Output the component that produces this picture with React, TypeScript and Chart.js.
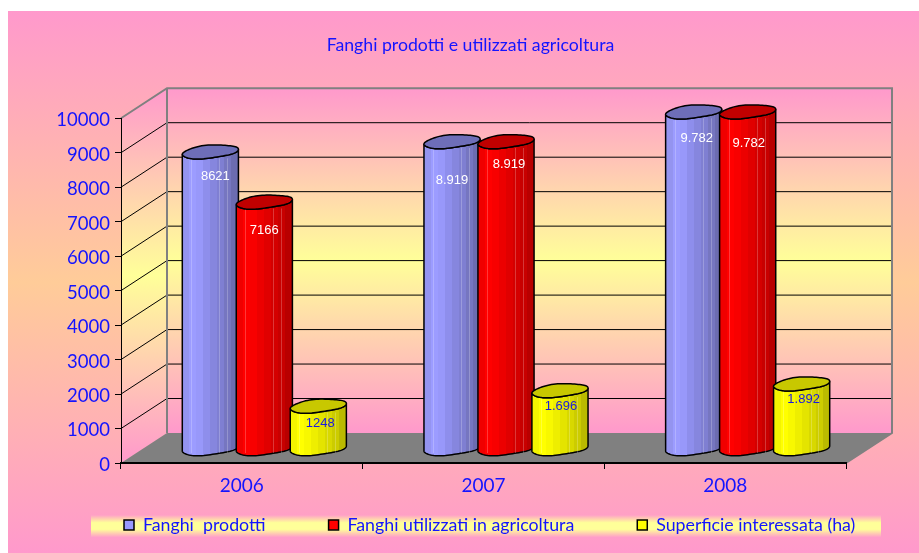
import React, { useEffect, useRef } from "react";
import { Chart, registerables } from "chart.js";

Chart.register(...registerables);

const categories = ["2006", "2007", "2008"];
const seriesNames = ["Fanghi  prodotti", "Fanghi utilizzati in agricoltura", "Superficie interessata (ha)"];
const fanghiProdotti = [8621, 8919, 9782];
const fanghiUtilizzati = [7166, 8919, 9782];
const superficie = [1248, 1696, 1892];
const labelsProdotti = ["8621", "8.919", "9.782"];
const labelsUtilizzati = ["7166", "8.919", "9.782"];
const labelsSuperficie = ["1248", "1.696", "1.892"];
const titleText = "Fanghi prodotti e utilizzati agricoltura";

const FONT = "Lato, 'Open Sans', sans-serif";
const BLUE_TEXT = "#1414ff";
const DEPTH_X = 46;
const DEPTH_Y = 30;

// bar style per dataset
const barStyles = [
  { stops: ["#9494f0", "#9c9cff", "#9898fa", "#8e8eec", "#8686de", "#7f7fd2", "#7676c0", "#6c6cb0"], cap: "#6e6eb8", text: "#ffffff", labels: labelsProdotti, dy: [25, 39, 27], dx: [5, 0, 3] },
  { stops: ["#f00000", "#ff0000", "#f80000", "#ec0000", "#e00000", "#d40000", "#c80000", "#b80000"], cap: "#c00000", text: "#ffffff", labels: labelsUtilizzati, dy: [28, 23, 32], dx: [0, 3, 1] },
  { stops: ["#f4f400", "#ffff00", "#f8f800", "#eeee00", "#e4e400", "#d8d800", "#cccc00", "#baba00"], cap: "#c8c800", text: "#1a1ae0", labels: labelsSuperficie, dy: [17, 16, 16], dx: [2, 1, 2] },
];
const facetLines = [0.16, 0.66, 0.8];

function capPoint(cx: number, cy: number, rx: number, ry: number, t: number): [number, number] {
  const k = 1 + 0.09 * Math.sin(3 * t + 1);
  return [cx + rx * Math.cos(t), cy + ry * Math.sin(t) * k - 0.09 * rx * Math.cos(t)];
}

function drawCylinders(chart: any, index: number) {
  const { ctx } = chart;
  const style = barStyles[index];
  const meta = chart.getDatasetMeta(index);
  const ox = DEPTH_X / 2 - 0.5;
  const oy = -DEPTH_Y / 2 + 1;
  const N = 40;
  ctx.save();
  meta.data.forEach((el: any, i: number) => {
    const p = el.getProps(["x", "y", "base", "width"], true);
    const cx = p.x + ox, top = p.y + oy, base = p.base + oy;
    const rx = p.width / 2, ry = 6.5;
    const grad = ctx.createLinearGradient(cx - rx, 0, cx + rx, 0);
    style.stops.forEach((c: string, k: number) => {
      grad.addColorStop(k / style.stops.length, c);
      grad.addColorStop((k + 1) / style.stops.length - 0.001, c);
    });
    ctx.beginPath();
    const start = capPoint(cx, top, rx, ry, Math.PI);
    ctx.moveTo(start[0], start[1]);
    for (let k = 0; k <= N; k++) {
      const pt = capPoint(cx, base, rx, ry, Math.PI * (1 - k / N));
      ctx.lineTo(pt[0], pt[1]);
    }
    const end = capPoint(cx, top, rx, ry, 0);
    ctx.lineTo(end[0], end[1]);
    for (let k = 0; k <= N; k++) {
      const pt = capPoint(cx, top, rx, ry, Math.PI * (k / N));
      ctx.lineTo(pt[0], pt[1]);
    }
    ctx.closePath();
    ctx.fillStyle = grad;
    ctx.fill();
    ctx.strokeStyle = "#000000";
    ctx.lineWidth = 1.5;
    ctx.stroke();

    ctx.lineWidth = 1;
    ctx.strokeStyle = "rgba(255,255,255,0.22)";
    for (const f of facetLines) {
      const fx = Math.round(cx - rx + f * 2 * rx) + 0.5;
      ctx.beginPath();
      ctx.moveTo(fx, top + ry);
      ctx.lineTo(fx, base + ry * 0.7);
      ctx.stroke();
    }

    ctx.strokeStyle = "#000000";
    ctx.lineWidth = 1.5;
    ctx.beginPath();
    for (let k = 0; k <= 2 * N; k++) {
      const pt = capPoint(cx, top, rx, ry, Math.PI * (k / N));
      if (k === 0) ctx.moveTo(pt[0], pt[1]);
      else ctx.lineTo(pt[0], pt[1]);
    }
    ctx.closePath();
    ctx.fillStyle = style.cap;
    ctx.fill();
    ctx.stroke();

    ctx.fillStyle = style.text;
    ctx.font = "13px 'Liberation Sans', Arial, sans-serif";
    ctx.textAlign = "center";
    ctx.textBaseline = "middle";
    ctx.fillText(style.labels[i], cx + style.dx[i], top + style.dy[i]);
  });
  ctx.restore();
}

const decor = {
  id: "decor3d",
  afterLayout(chart: any) {
    chart.titleBlock.left += 11;
    chart.titleBlock.right += 11;
    chart.legend.left = 61;
    chart.legend.right = 919;
    chart.legend.top = 453;
    chart.legend.bottom = 553;
  },
  beforeDraw(chart: any) {
    const { ctx, width, height } = chart;
    const x = chart.scales.x;
    const y = chart.scales.y;
    ctx.save();
    ctx.fillStyle = "#ffffff";
    ctx.fillRect(0, 0, width, height);
    const bg = ctx.createLinearGradient(0, 11, 0, 553);
    bg.addColorStop(0, "#ff99cc");
    bg.addColorStop(0.5, "#ffcc99");
    bg.addColorStop(1, "#ff99cc");
    ctx.fillStyle = bg;
    ctx.fillRect(8, 11, width - 8, height - 11);

    const l = x.left, r = x.right, t = y.top, b = y.bottom;
    const wall = ctx.createLinearGradient(0, t - DEPTH_Y, 0, b - DEPTH_Y);
    wall.addColorStop(0, "#ff99cc");
    wall.addColorStop(0.5, "#ffff99");
    wall.addColorStop(1, "#ff99cc");
    ctx.fillStyle = wall;
    ctx.fillRect(l + DEPTH_X, t - DEPTH_Y, r - l, b - t);
    const side = ctx.createLinearGradient(0, t - DEPTH_Y, 0, b);
    side.addColorStop(0, "#ff99cc");
    side.addColorStop(0.5, "#ffff99");
    side.addColorStop(1, "#ff99cc");
    ctx.fillStyle = side;
    ctx.beginPath();
    ctx.moveTo(l, t);
    ctx.lineTo(l + DEPTH_X, t - DEPTH_Y);
    ctx.lineTo(l + DEPTH_X, b - DEPTH_Y);
    ctx.lineTo(l, b);
    ctx.closePath();
    ctx.fill();

    ctx.strokeStyle = "#000000";
    ctx.lineWidth = 1;
    for (const tick of y.ticks) {
      if (tick.value === 0 || tick.value === 10000) continue;
      const py = y.getPixelForValue(tick.value);
      ctx.beginPath();
      ctx.moveTo(l, py);
      ctx.lineTo(l + DEPTH_X, py - DEPTH_Y);
      ctx.lineTo(r + DEPTH_X, py - DEPTH_Y);
      ctx.stroke();
    }

    ctx.fillStyle = "#808080";
    ctx.beginPath();
    ctx.moveTo(l, b);
    ctx.lineTo(l + DEPTH_X, b - DEPTH_Y);
    ctx.lineTo(r + DEPTH_X, b - DEPTH_Y);
    ctx.lineTo(r, b);
    ctx.closePath();
    ctx.fill();

    ctx.strokeStyle = "#808080";
    ctx.lineWidth = 2;
    ctx.beginPath();
    ctx.moveTo(l, t);
    ctx.lineTo(l + DEPTH_X, t - DEPTH_Y);
    ctx.lineTo(r + DEPTH_X, t - DEPTH_Y);
    ctx.lineTo(r + DEPTH_X, b - DEPTH_Y);
    ctx.lineTo(r, b);
    ctx.moveTo(l + DEPTH_X, t - DEPTH_Y);
    ctx.lineTo(l + DEPTH_X, b - DEPTH_Y);
    ctx.stroke();

    const band = ctx.createLinearGradient(0, 515, 0, 537);
    band.addColorStop(0, "#ffa0c8");
    band.addColorStop(0.35, "#ffff99");
    band.addColorStop(0.65, "#ffff99");
    band.addColorStop(1, "#ffa0c8");
    ctx.fillStyle = band;
    ctx.fillRect(91, 515, 790, 22);
    ctx.restore();
  },
  // Cylinders overlap left to right, so they are painted in dataset order.
  beforeDatasetsDraw(chart: any) {
    chart.data.datasets.forEach((_: any, i: number) => drawCylinders(chart, i));
  },
  beforeDatasetDraw() {
    return false;
  },
};

export default function App() {
  const ref = useRef<HTMLCanvasElement>(null);
  useEffect(() => {
    if (!ref.current) return;
    const chart = new Chart(ref.current, {
      type: "bar",
      data: {
        labels: categories,
        datasets: [
          { label: seriesNames[0], data: fanghiProdotti, backgroundColor: "#9999ff", borderColor: "#000000", borderWidth: 1.5 },
          { label: seriesNames[1], data: fanghiUtilizzati, backgroundColor: "#ff0000", borderColor: "#000000", borderWidth: 1.5 },
          { label: seriesNames[2], data: superficie, backgroundColor: "#ffff00", borderColor: "#000000", borderWidth: 1.5 },
        ],
      },
      options: {
        responsive: false,
        animation: false,
        events: [],
        datasets: { bar: { categoryPercentage: 0.67, barPercentage: 1.04 } },
        layout: { padding: { left: 0, right: 0, top: 0, bottom: 40 } },
        plugins: {
          tooltip: { enabled: false },
          title: {
            display: true,
            text: titleText,
            color: BLUE_TEXT,
            font: { family: FONT, size: 17.7, weight: "normal" },
            padding: { top: 35, bottom: 62 },
          },
          legend: {
            display: true,
            position: "bottom",
            align: "start",
            maxHeight: 20,
            labels: {
              color: BLUE_TEXT,
              font: { family: FONT, size: 17.8 },
              boxWidth: 10,
              boxHeight: 10,
              padding: 63,
            },
          },
        },
        scales: {
          x: {
            offset: true,
            border: { display: true, color: "#000000", width: 2 },
            grid: { display: true, drawOnChartArea: false, offset: true, tickLength: 6, tickColor: "#000000", tickWidth: 1 },
            ticks: { color: BLUE_TEXT, font: { family: FONT, size: 19 }, padding: 5, maxRotation: 0 },
            afterFit(s: any) { s.height = 30; },
          },
          y: {
            min: 0,
            max: 10000,
            border: { display: true, color: "#000000", width: 1 },
            grid: { display: true, drawOnChartArea: false, tickLength: 6, tickColor: "#000000", tickWidth: 1 },
            ticks: {
              stepSize: 1000,
              color: BLUE_TEXT,
              font: { family: FONT, size: 18.5 },
              padding: 5,
              labelOffset: 2,
              callback: (v: any) => String(v),
            },
            afterFit(s: any) { s.width = 121; },
          },
          spacer: {
            position: "right",
            display: true,
            border: { display: false },
            grid: { display: false },
            ticks: { display: false },
            afterFit(s: any) { s.width = 73; },
          },
        },
      },
      plugins: [decor],
    } as any);
    return () => chart.destroy();
  }, []);
  return (
    <div style={{ position: "absolute", left: 0, top: 0, width: 919, height: 553 }}>
      <canvas ref={ref} width={919} height={553} style={{ display: "block" }} />
    </div>
  );
}
